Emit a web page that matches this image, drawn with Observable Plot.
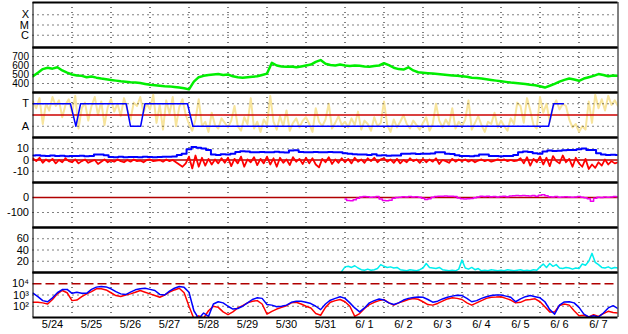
<!DOCTYPE html>
<html><head><meta charset="utf-8">
<script src="https://cdn.jsdelivr.net/npm/d3@7"></script>
<script src="https://cdn.jsdelivr.net/npm/@observablehq/plot@0.6"></script>
<style>
body{margin:0;background:#fff;}
#chart{position:relative;width:628px;height:334px;overflow:hidden;background:#fff;}
#chart svg{position:absolute;left:0;overflow:visible;}
</style></head><body><div id="chart"></div>
<script>
// ---- time axis (days since 5/24 00:00) ----
const dayLabels = ["5/24","5/25","5/26","5/27","5/28","5/29","5/30","5/31","6/ 1","6/ 2","6/ 3","6/ 4","6/ 5","6/ 6","6/ 7"];
const dayCenters = [0.5,1.5,2.5,3.5,4.5,5.5,6.5,7.5,8.5,9.5,10.5,11.5,12.5,13.5,14.5];
const dayBounds = [1,2,3,4,5,6,7,8,9,10,11,12,13,14];

// ---- panel 1: X-ray class ----
const xrayTicks = [1e-4, 1e-5, 1e-6];
const xrayLabels = ["X", "M", "C"];

// ---- panel 2: solar wind speed, every 3 h ----
const windTicks = [700, 600, 500, 400];
const windStep = 0.125;
const windSpeed = [
 480,520,560,575,565,580,545,520,
 500,490,485,470,478,465,455,448,
 440,432,425,420,415,412,405,395,
 385,380,375,370,368,362,355,348,
 335,420,470,485,495,500,505,495,
 500,480,470,465,470,475,480,495,
 510,630,600,590,585,590,580,590,
 600,610,640,660,620,605,600,610,
 600,595,600,598,590,585,595,600,
 625,605,575,560,555,580,545,525,
 520,515,510,505,500,495,490,485,
 480,475,465,460,455,448,440,432,
 425,418,410,405,400,395,385,380,
 370,355,375,395,420,440,455,445,
 430,455,470,485,505,495,480,490,
 485];

// ---- panel 3: IMF sector (A = 1, T = 3), phi every 2 h ----
const sectorTicks = [3, 1];
const sectorLabels = ["T", "A"];
const phiStep = 1/12;
const phiLevel = [
 3.2,2.6,3.5,1.2,3.0,2.4,3.6,2.8,3.3,1.8,2.9,3.4,
 2.2,3.7,0.8,2.6,3.1,1.5,2.8,3.6,2.0,3.2,1.1,2.7,
 3.4,2.3,3.0,1.9,3.5,2.5,1.6,3.1,2.8,3.6,2.2,3.0,
 2.5,3.8,1.3,2.9,0.7,3.3,2.1,3.6,1.0,2.7,3.4,2.0,
 1.2,0.6,1.6,3.4,1.0,1.4,0.5,2.2,1.1,0.8,1.7,1.3,
 0.9,1.5,2.8,1.0,0.6,1.8,1.2,3.5,0.8,1.4,0.5,1.6,
 1.1,3.7,1.4,0.7,1.9,1.0,2.4,0.6,1.3,1.7,0.9,1.5,
 1.8,1.2,0.5,2.6,1.4,1.0,1.6,3.0,0.8,1.3,1.9,1.1,
 1.4,0.9,1.7,1.1,2.3,0.7,1.5,1.2,0.6,1.8,1.0,1.3,
 3.2,1.1,0.5,1.6,0.9,1.4,2.0,1.2,0.8,1.5,1.1,0.7,
 1.3,1.8,0.6,1.2,3.0,1.5,0.9,1.6,1.1,2.6,0.8,1.4,
 1.0,1.6,3.3,0.7,1.3,1.9,1.1,0.5,1.4,1.2,2.2,0.9,
 1.5,1.0,0.6,1.7,1.2,3.1,2.8,1.3,3.5,2.4,1.1,0.8,
 3.6,2.2,3.0,1.4,2.7,3.3,2.5,3.0,2.8,1.6,0.9,1.2,
 0.5,1.0,0.7,3.2,1.3,3.8,2.6,3.4,2.4,3.7,2.9,3.3,
 2.8];
const sectorTimes  = [0, 0.96, 1.10, 1.22, 2.39, 2.50, 2.76, 2.87, 3.96, 4.10, 13.22, 13.35, 13.60];
const sectorLevels = [3, 3,    1,    3,    3,    1,    1,    3,    3,    1,    1,     3,     3];

// ---- panel 4: IMF |B| (3 h) and Bz (2 h), nT ----
const imfTicks = [10, 0, -10];
const btStep = 0.125;
const bTotal = [
 4.0,4.2,3.8,3.6,4.0,3.5,3.7,3.4,
 3.5,3.6,3.8,3.4,3.5,4.8,5.0,4.2,
 2.6,2.5,2.8,2.4,2.6,2.7,2.5,2.8,
 2.6,2.5,2.7,2.9,3.0,3.2,4.5,5.5,
 9.5,11.5,10.8,10.2,8.8,5.0,4.5,5.2,
 4.8,5.5,7.2,7.8,7.5,7.0,6.8,7.2,
 7.0,6.8,7.3,7.0,6.6,8.4,8.6,7.2,
 7.0,6.8,7.2,6.9,7.0,7.1,6.8,7.0,
 6.0,5.5,5.2,5.0,4.8,4.5,5.2,4.0,
 4.2,3.8,4.0,4.1,5.5,5.6,5.8,5.4,
 5.6,5.5,5.8,7.0,6.8,5.5,5.4,4.2,
 3.5,3.6,3.4,3.8,5.0,4.8,3.6,3.5,
 3.4,3.6,3.5,4.5,6.8,7.5,7.2,6.0,
 5.5,7.5,8.5,8.0,8.2,8.6,9.0,8.8,
 9.5,10.2,8.8,9.0,6.0,4.8,4.5,4.6,
 4.5];
const bzStep = 1/12;
const bz = [
 1.5,-1.0,2.0,-2.5,0.5,-1.5,1.0,-3.0,0.0,-2.0,1.5,-1.0,
 -2.0,0.5,-3.0,-1.0,0.5,-2.5,-1.0,0.0,-3.5,-1.5,0.5,-2.0,
 -0.5,-1.5,0.5,-1.0,-2.0,0.0,-1.5,0.5,-1.0,-0.5,-2.0,0.0,
 0.5,-1.0,-0.5,0.0,-1.5,0.5,-1.0,0.0,-2.0,-4.0,-6.0,-3.0,
 3.0,-7.5,4.0,-6.0,2.0,-5.0,1.0,-4.0,0.5,-3.0,1.5,-2.5,
 2.0,-5.5,1.0,-3.0,3.0,-6.0,0.5,-2.0,2.5,-4.5,1.0,-3.0,
 3.0,-4.0,1.5,-6.0,2.0,-2.5,0.5,-4.5,2.5,-1.5,1.0,-3.5,
 2.0,-3.0,1.5,-4.0,-6.5,1.0,-2.0,2.5,-3.5,0.5,-2.5,1.5,
 -2.0,1.0,-3.0,2.0,-1.5,0.5,-2.5,1.5,-1.0,2.0,-2.0,0.5,
 1.5,-1.5,0.5,-2.5,1.0,-3.0,0.0,-2.0,1.5,-1.0,0.5,-2.5,
 1.0,-2.0,0.5,-1.5,1.5,-3.5,0.0,-1.0,-2.5,1.0,-1.5,0.5,
 -1.0,0.5,-1.5,0.0,-2.0,-0.5,0.5,-1.0,0.0,-1.5,-0.5,0.5,
 -0.5,0.5,-1.0,0.0,-1.0,-0.5,1.5,-3.0,2.5,-5.0,1.0,-2.0,
 3.0,-4.0,2.0,-5.5,3.5,-1.0,-3.0,4.0,-2.0,1.0,-6.0,2.0,
 -3.0,-6.0,1.0,-8.0,-4.0,-7.0,-2.0,-5.0,0.5,-4.0,-1.0,-3.0,
 -2.0];

// ---- panel 5: Dst (2 h from 6/1 00:00), nT ----
const dstTicks = [0, -100];
const dstStart = 8, dstStep = 1/12;
const dst = [
 -10,-20,-22,-15,-5,3,7,5,2,3,6,-10,
 -20,-22,-18,-5,0,2,5,4,6,3,5,2,
 -5,-13,-8,2,6,9,8,10,9,8,7,-3,
 -8,-10,-9,-7,-2,4,8,6,8,5,7,4,
 6,8,5,10,12,13,11,14,12,10,13,9,
 15,18,12,5,3,6,2,4,5,3,1,4,
 6,2,-2,-8,-25,-5,2,0,3,1,4,6,
 5];

// ---- panel 6: cyan series (2 h from 5/31 22:00) ----
const cyanTicks = [60, 40, 20];
const cyanStart = 7 + 11/12, cyanStep = 1/12;
const cyanVals = [
 2,
 10,11,9,12,8,5,4,6,4,5,7,14,
 11,9,10,8,9,5,4,3,5,4,3,5,
 8,16,9,8,7,9,5,4,3,4,3,6,
 22,8,6,9,5,7,3,4,3,5,4,3,
 4,3,5,4,3,4,5,3,4,3,5,4,
 10,15,9,16,11,14,8,7,9,8,6,8,
 7,15,13,20,34,18,14,9,8,10,7,9,
 8];

// ---- panel 7: electron flux, log10 exponents every 3 h ----
const fluxTicks = [1e4, 1e3, 1e2];
const fluxStep = 0.125;
const fluxBlueExp = [
 3.16,2.85,2.5,2.4,2.75,3.2,3.48,3.5,
 3.15,3.25,3.15,3.15,3.5,3.7,3.76,3.72,
 3.55,3.3,3.1,3.04,3.25,3.46,3.55,3.6,
 3.5,3.4,3.05,3.0,3.35,3.6,3.75,3.68,
 3.25,1.6,0.9,1.4,1.1,2.2,2.4,2.3,
 2.0,1.75,1.8,2.0,2.3,2.6,2.75,2.7,
 2.15,2.1,1.95,2.0,2.1,2.35,2.45,2.45,
 2.35,2.24,2.0,1.7,2.2,2.54,2.7,2.84,
 2.7,2.3,1.85,1.5,1.85,2.3,2.5,2.65,
 2.55,2.3,2.15,2.3,2.55,2.7,2.78,2.82,
 2.8,2.6,2.36,2.45,2.65,2.8,2.9,2.98,
 2.95,2.7,2.4,2.5,2.7,2.85,2.96,3.0,
 3.0,2.9,2.8,2.4,2.66,2.85,2.96,2.85,
 2.75,2.4,1.7,1.3,2.1,2.38,2.4,2.3,
 1.9,1.3,1.05,1.15,1.05,1.4,1.85,2.05,
 1.8];
const fluxRedExp = [
 2.36,2.36,2.3,2.2,2.6,3.1,3.4,3.2,
 2.5,2.55,2.85,3.1,3.3,3.55,3.55,3.45,
 3.2,2.95,2.87,3.0,3.1,3.25,3.4,3.25,
 3.1,2.95,2.8,3.0,3.25,3.45,3.6,3.2,
 2.0,0.9,1.15,0.95,1.6,2.0,1.9,1.5,
 1.25,1.5,1.85,2.05,2.3,2.45,2.5,2.2,
 1.3,1.55,1.75,1.9,2.05,2.3,2.35,2.2,
 2.0,1.85,1.35,1.2,1.9,2.35,2.5,2.6,
 2.4,2.0,1.1,1.35,1.8,2.15,2.35,2.5,
 2.6,2.3,2.1,2.3,2.45,2.6,2.68,2.62,
 2.4,2.15,2.1,2.25,2.45,2.65,2.75,2.7,
 2.6,2.3,2.1,2.3,2.5,2.7,2.8,2.82,
 2.85,2.7,2.55,2.3,2.35,2.55,2.6,2.66,
 2.4,1.95,1.5,1.5,2.07,2.2,2.1,1.6,
 1.15,1.2,1.05,1.25,1.1,1.35,1.55,1.45,
 1.4];
const fluxAlert = [1e4];

// ---- helpers ----
const series = (vals, start, step, f = v => v) => vals.map((v, i) => ({t: start + i * step, v: f(v)}));
const sup = {1:"\u00b9",2:"\u00b2",3:"\u00b3",4:"\u2074",5:"\u2075"};
const root = document.getElementById("chart");
const PH = 45, TOP = 2, BOTTOM = 17;
const dot = "1,4";

function panel(i, y, marks, fontSize = 11) {
  const last = i === 6;
  const svg = Plot.plot({
    width: 628,
    height: PH + (last ? BOTTOM : 0),
    marginLeft: 32.5, marginRight: 10.5, marginTop: 0, marginBottom: last ? BOTTOM : 0,
    style: {fontFamily: "'Liberation Sans', Arial, sans-serif", fontSize: "11px", color: "#000", background: "transparent", overflow: "visible"},
    x: last
      ? {domain: [0, 15], ticks: dayCenters, tickFormat: d => dayLabels[Math.round(d - 0.5)], tickSize: 0, tickPadding: 3, label: null}
      : {domain: [0, 15], axis: null},
    y: Object.assign({tickSize: 0, tickPadding: 4, label: null}, y),
    marks: [
      Plot.ruleX(dayBounds, {stroke: "#000", strokeWidth: 1, strokeDasharray: dot}),
      ...marks,
      Plot.ruleY(y.domain, {stroke: "#000", strokeWidth: 2}),
      Plot.ruleX([0, 15], {stroke: "#000", strokeWidth: 1})
    ]
  });
  const g = svg.querySelector("[aria-label='y-axis tick label']");
  if (g) g.setAttribute("font-size", fontSize);
  svg.style.top = (TOP + i * PH) + "px";
  root.append(svg);
}

// 1. X-ray
panel(0, {type: "log", domain: [10 ** -7.2, 10 ** -2.8], ticks: xrayTicks, tickFormat: d => xrayLabels[xrayTicks.indexOf(d)]}, [
  Plot.ruleY(xrayTicks, {stroke: "#000", strokeDasharray: dot})
]);

// 2. Solar wind speed
panel(1, {domain: [300, 800], ticks: windTicks, tickFormat: d => String(d)}, [
  Plot.ruleY(windTicks, {stroke: "#000", strokeDasharray: dot}),
  Plot.line(series(windSpeed, 0, windStep), {x: "t", y: "v", stroke: "#00ee00", strokeWidth: 2.5, clip: true})
], 10);

// 3. IMF sector
panel(2, {domain: [0, 4], ticks: sectorTicks, tickFormat: d => sectorLabels[sectorTicks.indexOf(d)]}, [
  Plot.line(series(phiLevel, 0, phiStep), {x: "t", y: "v", stroke: "#f7e49c", strokeWidth: 2, clip: true}),
  Plot.ruleY(sectorTicks, {stroke: "#000", strokeDasharray: dot}),
  Plot.ruleY([2], {stroke: "#cc0000", strokeWidth: 1.5}),
  Plot.line(sectorTimes.map((t, k) => ({t, v: sectorLevels[k]})), {x: "t", y: "v", stroke: "#0000ff", strokeWidth: 1.5, clip: true})
]);

// 4. IMF |B| and Bz
panel(3, {domain: [-20, 20], ticks: imfTicks, tickFormat: d => String(d)}, [
  Plot.ruleY([10, -10], {stroke: "#000", strokeDasharray: dot}),
  Plot.ruleY([0], {stroke: "#b00000", strokeWidth: 1.5}),
  Plot.line(series(bTotal, 0, btStep), {x: "t", y: "v", stroke: "#0000ff", strokeWidth: 2, curve: "step", clip: true}),
  Plot.line(series(bz, 0, bzStep), {x: "t", y: "v", stroke: "#ff0000", strokeWidth: 1.8, clip: true})
]);

// 5. Dst
panel(4, {domain: [-200, 100], ticks: dstTicks, tickFormat: d => String(d)}, [
  Plot.ruleY([-100], {stroke: "#000", strokeDasharray: dot}),
  Plot.ruleY([0], {stroke: "#b00000", strokeWidth: 1.5}),
  Plot.line(series(dst, dstStart, dstStep), {x: "t", y: "v", stroke: "#ee00ee", strokeWidth: 1.5, curve: "step", clip: true})
]);

// 6. cyan
panel(5, {domain: [0, 80], ticks: cyanTicks, tickFormat: d => String(d)}, [
  Plot.ruleY(cyanTicks, {stroke: "#000", strokeDasharray: dot}),
  Plot.line(series(cyanVals, cyanStart, cyanStep), {x: "t", y: "v", stroke: "#00eeee", strokeWidth: 1.5, clip: true})
]);

// 7. electron flux
panel(6, {type: "log", domain: [10, 1e5], ticks: fluxTicks, tickFormat: d => "10" + sup[Math.round(Math.log10(d))]}, [
  Plot.ruleY([1e3, 1e2], {stroke: "#000", strokeDasharray: dot}),
  Plot.ruleY(fluxAlert, {stroke: "#b00000", strokeWidth: 1.5, strokeDasharray: "9,4"}),
  Plot.line(series(fluxRedExp, 0, fluxStep, e => 10 ** e), {x: "t", y: "v", stroke: "#ff0000", strokeWidth: 1.5, clip: true}),
  Plot.line(series(fluxBlueExp, 0, fluxStep, e => 10 ** e), {x: "t", y: "v", stroke: "#0000ff", strokeWidth: 1.5, clip: true})
]);
</script>
</body></html>
